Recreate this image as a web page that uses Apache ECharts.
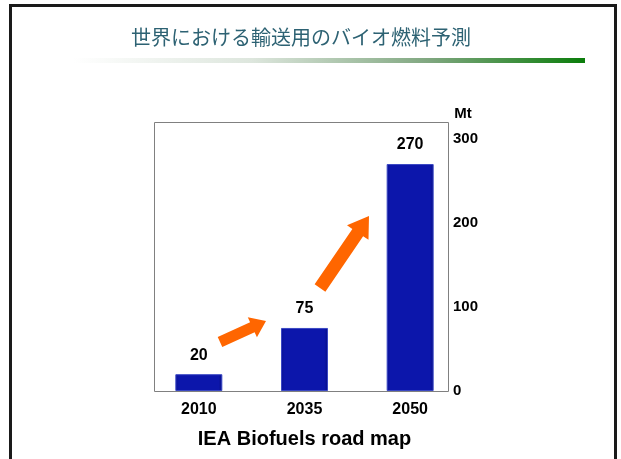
<!DOCTYPE html>
<html>
<head>
<meta charset="utf-8">
<script src="https://cdn.jsdelivr.net/npm/echarts@6/dist/echarts.min.js"></script>
<style>
  html, body { margin: 0; padding: 0; background: #fff; }
  #main { width: 621px; height: 459px; }
</style>
</head>
<body>
<div id="main"></div>
<script>
// data
var years = ['2010', '2035', '2050'];
var biofuelMt = [20, 75, 270];
var yTicks = [0, 100, 200, 300];

var myChart = echarts.init(document.getElementById('main'));

// orange arrow polygon: tail -> tip
function arrow(x1, y1, x2, y2, w, hw, hl) {
  var dx = x2 - x1, dy = y2 - y1;
  var len = Math.sqrt(dx * dx + dy * dy);
  var ux = dx / len, uy = dy / len;
  var nx = -uy, ny = ux;
  var bx = x2 - ux * hl, by = y2 - uy * hl;
  return {
    type: 'polygon',
    shape: { points: [
      [x1 + nx * w / 2, y1 + ny * w / 2],
      [bx + nx * w / 2, by + ny * w / 2],
      [bx + nx * hw / 2, by + ny * hw / 2],
      [x2, y2],
      [bx - nx * hw / 2, by - ny * hw / 2],
      [bx - nx * w / 2, by - ny * w / 2],
      [x1 - nx * w / 2, y1 - ny * w / 2]
    ] },
    style: { fill: '#ff6600' },
    z: 10
  };
}

var option = {
  backgroundColor: '#fff',
  animation: false,
  title: {
    text: '世界における輸送用のバイオ燃料予測',
    left: 296,
    textAlign: 'center',
    top: 22,
    textStyle: {
      fontFamily: 'Noto Sans CJK JP',
      fontWeight: 'normal',
      fontSize: 20,
      color: '#2d6273'
    }
  },
  grid: { left: 146, right: 158, top: 122, bottom: 68, outerBoundsMode: 'none' },
  xAxis: {
    type: 'category',
    data: years,
    axisLine: { show: false },
    axisTick: { show: false },
    axisLabel: {
      margin: 11,
      fontFamily: 'Liberation Sans',
      fontWeight: 'bold',
      fontSize: 16,
      color: '#000'
    },
    name: 'IEA Biofuels road map',
    nameLocation: 'middle',
    nameGap: 38,
    nameTextStyle: {
      fontFamily: 'Liberation Sans',
      fontWeight: 'bold',
      fontSize: 20,
      color: '#000'
    }
  },
  yAxis: {
    type: 'value',
    position: 'right',
    min: 0,
    max: 320,
    interval: 100,
    name: 'Mt',
    nameLocation: 'end',
    nameGap: 1,
    nameTextStyle: {
      fontFamily: 'Liberation Sans',
      fontWeight: 'bold',
      fontSize: 15,
      color: '#000'
    },
    axisLine: { show: false },
    axisTick: { show: false },
    splitLine: { show: false },
    axisLabel: {
      margin: -10,
      fontFamily: 'Liberation Sans',
      fontWeight: 'bold',
      fontSize: 15,
      color: '#000',
      formatter: function (v) {
        return yTicks.indexOf(v) >= 0 ? String(v) : '';
      }
    }
  },
  series: [
    {
      name: 'Biofuels',
      type: 'bar',
      data: biofuelMt,
      barWidth: 47,
      itemStyle: {
        color: new echarts.graphic.LinearGradient(0, 0, 1, 0, [
          { offset: 0, color: '#0a1296' },
          { offset: 0.08, color: '#0c16ab' },
          { offset: 0.92, color: '#0c16ab' },
          { offset: 1, color: '#070e84' }
        ]),
        borderColor: '#3a48c4',
        borderWidth: 1
      },
      label: {
        show: true,
        position: 'top',
        distance: 11,
        fontFamily: 'Liberation Sans',
        fontWeight: 'bold',
        fontSize: 16,
        color: '#000'
      }
    }
  ],
  graphic: [
    // slide border
    {
      type: 'rect',
      shape: { x: 10.5, y: 5.5, width: 605, height: 460 },
      style: { fill: 'none', stroke: '#1a1a1a', lineWidth: 3 },
      z: 0
    },
    // title underline
    {
      type: 'rect',
      shape: { x: 73, y: 58, width: 512, height: 5 },
      style: {
        fill: new echarts.graphic.LinearGradient(0, 0, 1, 0, [
          { offset: 0, color: '#ffffff' },
          { offset: 0.35, color: '#dde6dd' },
          { offset: 0.7, color: '#7ea67e' },
          { offset: 1, color: '#0b7d0b' }
        ])
      }
    },
    // plot frame
    {
      type: 'rect',
      shape: { x: 154.5, y: 122.5, width: 294, height: 269 },
      style: { fill: 'none', stroke: '#808080', lineWidth: 1 },
      z: 1
    },
    arrow(220, 342, 266, 321, 11, 22, 15),
    arrow(320, 288, 369, 216, 13, 26, 20)
  ]
};

myChart.setOption(option);
</script>
</body>
</html>
